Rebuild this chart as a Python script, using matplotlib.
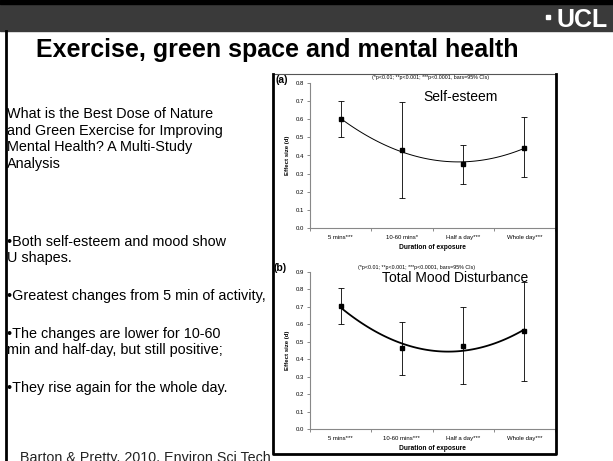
import matplotlib
matplotlib.use("Agg")
import matplotlib.pyplot as plt
from matplotlib.patches import Rectangle
from matplotlib.lines import Line2D
import numpy as np

plt.rcParams['font.family'] = ['Liberation Sans', 'DejaVu Sans']

# data
durations = ["5 mins***", "10-60 mins*", "Half a day***", "Whole day***"]
durations_b = ["5 mins***", "10-60 mins***", "Half a day***", "Whole day***"]

esteem = [0.601, 0.430, 0.355, 0.443]
esteem_lo = [0.502, 0.165, 0.243, 0.280]
esteem_hi = [0.702, 0.695, 0.460, 0.612]

mood = [0.706, 0.462, 0.477, 0.561]
mood_lo = [0.603, 0.309, 0.258, 0.277]
mood_hi = [0.811, 0.613, 0.698, 0.845]

note = "(*p<0.01; **p<0.001; ***p<0.0001, bars=95% CIs)"

W, H = 613, 461
fig = plt.figure(figsize=(W / 100, H / 100), dpi=100)

def fx(x):
    return x / W

def fy(y):
    return 1 - y / H

# header band
fig.add_artist(Rectangle((0, fy(31)), 1, 31 / H, color="#3a3a3a", transform=fig.transFigure, zorder=0))
fig.add_artist(Rectangle((0, fy(4)), 1, 4 / H, color="black", transform=fig.transFigure, zorder=0))
fig.text(fx(608), fy(20), "UCL", color="white", fontsize=18, fontweight="bold",
         ha="right", va="center")
fig.add_artist(Rectangle((fx(546), fy(19)), 4 / W, 4 / H, color="white", transform=fig.transFigure))
# left slide border
fig.add_artist(Line2D([fx(6), fx(6)], [0, fy(31)], color="black", lw=2, transform=fig.transFigure))

fig.text(fx(36), fy(50), "Exercise, green space and mental health", fontsize=18,
         fontweight="bold", ha="left", va="center")

fig.text(fx(7), fy(139), "What is the Best Dose of Nature\nand Green Exercise for Improving\n"
         "Mental Health? A Multi-Study\nAnalysis", fontsize=10.4, ha="left", va="center",
         linespacing=1.27)

bullets = [
    (250, "\u2022Both self-esteem and mood show\nU shapes."),
    (296, "\u2022Greatest changes from 5 min of activity,"),
    (342, "\u2022The changes are lower for 10-60\nmin and half-day, but still positive;"),
    (388, "\u2022They rise again for the whole day."),
]
for y, t in bullets:
    fig.text(fx(7), fy(y), t, fontsize=10.4, ha="left", va="center", linespacing=1.27)

fig.text(fx(20), fy(465), "Barton & Pretty, 2010, Environ Sci Tech", fontsize=10.3,
         ha="left", va="bottom", color="#222222")

# chart frame
fig.add_artist(Line2D([fx(273), fx(556)], [fy(74), fy(74)], color="#555555", lw=0.8,
                      transform=fig.transFigure))
fig.add_artist(Line2D([fx(273), fx(273), fx(556), fx(556)], [fy(74), fy(454), fy(454), fy(74)],
                      color="black", lw=2, transform=fig.transFigure))


def panel(top, bottom, ymax, vals, lo, hi, labels, lw):
    ax = fig.add_axes([fx(310), fy(bottom), fx(555) - fx(310), (bottom - top) / H])
    x = np.arange(1, len(vals) + 1)
    v = np.array(vals)
    yerr = [v - np.array(lo), np.array(hi) - v]
    ax.errorbar(x, v, yerr=yerr, fmt="s", color="black", ms=3, elinewidth=0.6,
                capsize=2, capthick=0.6)
    c = np.polyfit(x, v, 2)
    xs = np.linspace(1, 4, 100)
    ax.plot(xs, np.polyval(c, xs), color="black", lw=lw)
    ax.set_xlim(0.5, 4.5)
    ax.set_ylim(0, ymax)
    ax.set_yticks(np.arange(0, ymax + 0.01, 0.1))
    ax.set_yticklabels(["%.1f" % t for t in np.arange(0, ymax + 0.01, 0.1)])
    ax.set_xticks(x)
    ax.set_xticklabels(labels)
    ax.set_xticks(np.arange(0.5, 4.6, 1), minor=True)
    ax.tick_params(axis="x", which="major", length=0, labelsize=4.3, pad=5)
    ax.tick_params(axis="x", which="minor", length=2.5, width=0.6, color="#777777")
    ax.tick_params(axis="y", length=2.5, width=0.6, color="#777777", labelsize=4.3, pad=2)
    for s in ["top", "right"]:
        ax.spines[s].set_visible(False)
    for s in ["left", "bottom"]:
        ax.spines[s].set_color("#888888")
        ax.spines[s].set_linewidth(0.8)
    ax.patch.set_alpha(0)
    ax.set_ylabel("Effect size (d)", fontsize=4.3, fontweight="bold", labelpad=4)
    ax.set_xlabel("Duration of exposure", fontsize=4.8, fontweight="bold", labelpad=3)
    return ax


panel(83, 228, 0.8, esteem, esteem_lo, esteem_hi, durations, 0.7)
fig.text(fx(276), fy(80), "(a)", fontsize=7.5, fontweight="bold", ha="left", va="center")
fig.text(fx(430), fy(78), note, fontsize=3.8, ha="center", va="center")
fig.text(fx(423), fy(97), "Self-esteem", fontsize=10, ha="left", va="center")

panel(272, 429, 0.9, mood, mood_lo, mood_hi, durations_b, 1.3)
fig.text(fx(274), fy(268), "(b)", fontsize=7.5, fontweight="bold", ha="left", va="center")
fig.text(fx(417), fy(268), note, fontsize=3.8, ha="center", va="center")
fig.text(fx(382), fy(278), "Total Mood Disturbance", fontsize=10, ha="left", va="center")

fig.savefig("out.png", dpi=100)
